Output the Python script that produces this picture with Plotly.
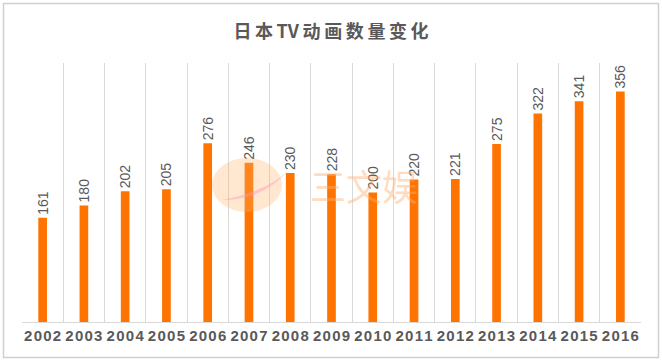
import plotly.graph_objects as go

years = ["2002", "2003", "2004", "2005", "2006", "2007", "2008", "2009",
         "2010", "2011", "2012", "2013", "2014", "2015", "2016"]
counts = [161, 180, 202, 205, 276, 246, 230, 228, 200, 220, 221, 275, 322, 341, 356]
title_chars = ["日", "本", "TV", "动", "画", "数", "量", "变", "化"]
watermark = "三文娱"

W, H = 662, 363
L, R, T, B = 22, 21, 63, 41
pw, ph = W - L - R, H - T - B

def px(x):
    return (x - L) / pw

def py(y):
    return (H - B - y) / ph

tick_text = ["\u200a".join(list(y)) for y in years]
title_text = "\u2009".join(title_chars)

fig = go.Figure(go.Bar(
    x=years, y=counts,
    marker=dict(color="#FF7300", line=dict(width=0)),
    text=[str(c) for c in counts],
    textposition="outside",
    textangle=-90,
    constraintext="none",
    cliponaxis=False,
    textfont=dict(family="Liberation Sans, Arial", size=14, color="#595959"),
    hoverinfo="skip",
))

fig.update_layout(
    width=W, height=H,
    margin=dict(l=L, r=R, t=T, b=B, autoexpand=False),
    paper_bgcolor="white", plot_bgcolor="white",
    bargap=0.79,
    showlegend=False,
    title=dict(text="<b>" + title_text + "</b>", x=0.5, xanchor="center",
               y=1 - 32 / H, yanchor="middle",
               font=dict(family="Noto Sans CJK SC", size=18, color="#595959")),
    xaxis=dict(type="category", tickson="boundaries", showgrid=True,
               gridcolor="#D9D9D9", gridwidth=1, ticks="", showline=True,
               linecolor="#D9D9D9", linewidth=1, tickangle=0, automargin=False,
               tickvals=years, ticktext=["<b>" + t + "</b>" for t in tick_text],
               tickfont=dict(family="Liberation Sans, Arial", size=15, color="#595959"),
               fixedrange=True),
    yaxis=dict(range=[0, 400], showgrid=False, showticklabels=False,
               zeroline=False, showline=False, ticks="", fixedrange=True,
               automargin=False),
    shapes=[
        dict(type="rect", xref="paper", yref="paper",
             x0=px(3.5), x1=px(658.5), y0=py(357.5), y1=py(3.5),
             line=dict(color="#D0D0D0", width=1.5), fillcolor="rgba(0,0,0,0)",
             layer="above"),
        dict(type="circle", xref="paper", yref="paper",
             x0=px(212), x1=px(282), y0=py(212), y1=py(158),
             line=dict(width=0), fillcolor="rgba(255,175,100,0.3)", layer="above"),
        dict(type="path", xref="paper", yref="paper",
             path="M {} {} Q {} {} {} {} Q {} {} {} {} Z".format(
                 px(222), py(200), px(265), py(200), px(290), py(168),
                 px(272), py(190), px(222), py(200)),
             line=dict(width=0), fillcolor="rgba(255,150,190,0.45)", layer="above"),
    ],
    annotations=[
        dict(text=watermark, xref="paper", yref="paper", x=px(364), y=py(185),
             xanchor="center", yanchor="middle", showarrow=False,
             font=dict(family="Noto Sans CJK SC", size=36, color="rgba(255,175,110,0.45)")),
    ],
)

fig.write_html("out.html",
               config={"displayModeBar": False},
               post_script="document.body.style.margin='0';document.body.style.overflow='hidden';")
